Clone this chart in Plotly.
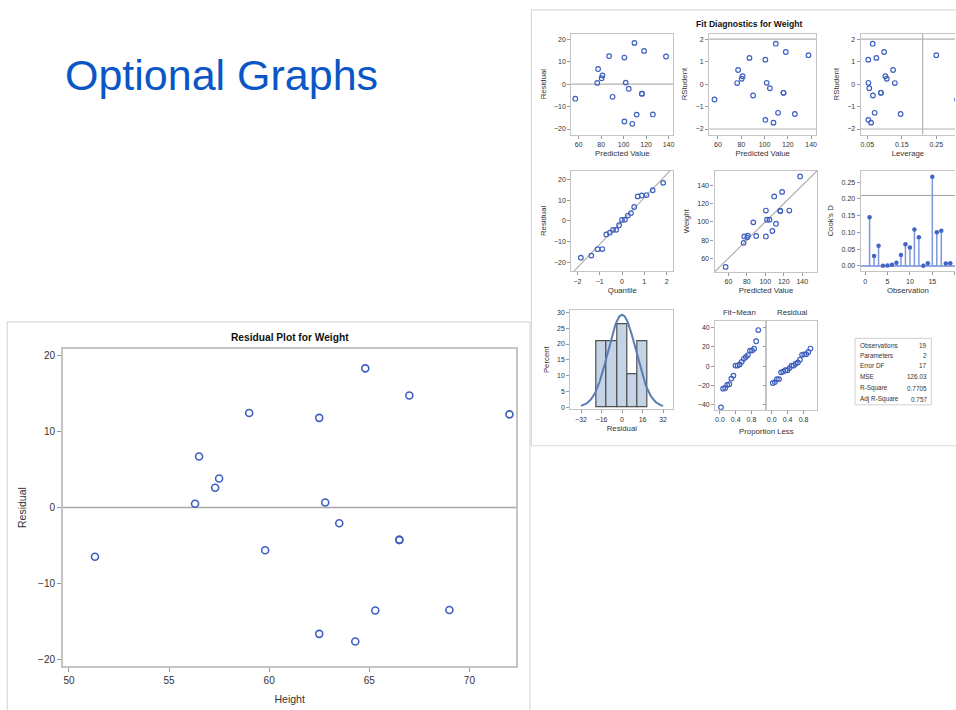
import numpy as np
import plotly.graph_objects as go

# ---------------- data (SASHELP.CLASS regression of Weight on Height) ----------------
obs = list(range(1, 20))
height = [69.0, 56.5, 65.3, 62.8, 63.5, 57.3, 59.8, 62.5, 62.5, 59.0,
          51.3, 64.3, 56.3, 66.5, 72.0, 64.8, 67.0, 57.5, 66.5]
weight = [112.5, 84.0, 98.0, 102.5, 102.5, 83.0, 84.5, 112.5, 84.0, 99.5,
          50.5, 90.0, 77.0, 112.0, 150.0, 128.0, 133.0, 85.0, 112.0]
predicted = [126.01, 77.27, 111.58, 101.83, 104.56, 80.39, 90.14, 100.66, 100.66, 87.02,
             56.99, 107.68, 76.49, 116.26, 137.70, 109.63, 118.21, 81.17, 116.26]
residual = [-13.51, 6.73, -13.58, 0.67, -2.06, 2.61, -5.64, 11.84, -16.66, 12.48,
            -6.49, -17.68, 0.51, -4.26, 12.30, 18.37, 14.79, 3.83, -4.26]
rstudent = [-1.332, 0.630, -1.278, 0.059, -0.184, 0.239, -0.508, 1.089, -1.592, 1.169,
            -0.685, -1.716, 0.048, -0.387, 1.289, 1.801, 1.430, 0.351, -0.387]
leverage = [0.1465, 0.1246, 0.0712, 0.0531, 0.0555, 0.1063, 0.0662, 0.0527, 0.0527, 0.0762,
            0.3101, 0.0608, 0.1297, 0.0893, 0.2500, 0.0655, 0.0986, 0.1021, 0.0893]
cooks_d = [0.1455, 0.0292, 0.0604, 0.0001, 0.0011, 0.0036, 0.0096, 0.0327, 0.0647, 0.0552,
           0.1090, 0.0855, 0.0002, 0.0077, 0.2666, 0.1003, 0.1053, 0.0074, 0.0077]
qq_quantile = [-1.846, -1.376, -1.097, -0.884, -0.705, -0.547, -0.401, -0.264, -0.131, 0.0,
               0.131, 0.264, 0.401, 0.547, 0.705, 0.884, 1.097, 1.376, 1.846]
qq_residual = [-17.68, -16.66, -13.58, -13.51, -6.49, -5.64, -4.26, -4.26, -2.06, 0.51,
               0.67, 2.61, 3.83, 6.73, 11.84, 12.30, 12.48, 14.79, 18.37]
prop_less = [0.026, 0.079, 0.132, 0.184, 0.237, 0.289, 0.342, 0.395, 0.447, 0.500,
             0.553, 0.605, 0.658, 0.711, 0.763, 0.816, 0.868, 0.921, 0.974]
fit_minus_mean = [-43.03, -23.54, -22.76, -19.64, -18.86, -13.01, -9.89, 0.64, 0.64, 1.81,
                  4.54, 7.66, 9.60, 11.55, 16.23, 16.23, 18.18, 25.98, 37.68]
stat_labels = ["Observations", "Parameters", "Error DF", "MSE", "R-Square", "Adj R-Square"]
stat_values = ["19", "2", "17", "126.03", "0.7705", "0.757"]
root_mse = 11.226
resid_sd = 10.91
cook_cutoff = 0.2105      # 4/n
lev_cutoff = 0.2105       # 2p/n
rstud_limits = [-2, 2]

# ---------------- styling ----------------
W, H = 956, 710
FONT = "Arial, Liberation Sans, sans-serif"
BLUE = "#3d5fbf"
FRAME = "#c4c4c4"
REF = "#b2b2b2"
TXT = "#333333"


def dx(a, b):
    return [a / W, b / W]


def dy(top, bottom):
    return [1 - bottom / H, 1 - top / H]


fig = go.Figure()
layout = {}


def add_axes(n, xdom, ydom, xr, yr, xtitle, ytitle, xticks, yticks, small=True,
             xfmt=None, yfmt=None, ymirror=True, yshow=True, ystand=6, xstand=3):
    fs = 7 if small else 10
    tfs = 7.8 if small else 10.5
    xs = "xaxis" if n == 1 else f"xaxis{n}"
    ys = "yaxis" if n == 1 else f"yaxis{n}"
    lw = 1.3 if small else 1.8
    xa = dict(domain=xdom, range=xr, anchor="y" if n == 1 else f"y{n}",
              showgrid=False, zeroline=False, showline=True, mirror=True,
              linecolor=FRAME, linewidth=lw, ticks="outside", ticklen=3 if small else 4,
              tickcolor="#999999", tickvals=xticks,
              tickfont=dict(family=FONT, size=fs, color=TXT),
              title=dict(text=xtitle, font=dict(family=FONT, size=tfs, color=TXT),
                         standoff=xstand))
    if xfmt:
        xa["tickformat"] = xfmt
    ya = dict(domain=ydom, range=yr, anchor="x" if n == 1 else f"x{n}",
              showgrid=False, zeroline=False, showline=True, mirror=ymirror,
              linecolor=FRAME, linewidth=lw, ticks="outside", ticklen=3 if small else 4,
              tickcolor="#999999", tickvals=yticks, showticklabels=yshow,
              tickfont=dict(family=FONT, size=fs, color=TXT),
              title=dict(text=ytitle, font=dict(family=FONT, size=tfs, color=TXT),
                         standoff=ystand))
    if yfmt:
        ya["tickformat"] = yfmt
    layout[xs] = xa
    layout[ys] = ya


def ref(n):
    return ("x" if n == 1 else f"x{n}", "y" if n == 1 else f"y{n}")


def pts(n, x, y, size=4.6, width=1.2):
    xr_, yr_ = ref(n)
    fig.add_trace(go.Scatter(x=x, y=y, mode="markers", xaxis=xr_, yaxis=yr_,
                             marker=dict(symbol="circle-open", size=size, color=BLUE,
                                         line=dict(width=width)),
                             showlegend=False, hoverinfo="skip"))


shapes = []
annotations = []


def hline(n, y, color=REF, width=1.2):
    xr_, yr_ = ref(n)
    shapes.append(dict(type="line", xref=f"{xr_} domain", yref=yr_, x0=0, x1=1, y0=y, y1=y,
                       line=dict(color=color, width=width), layer="below"))


def vline(n, x, color=REF, width=1.2):
    xr_, yr_ = ref(n)
    shapes.append(dict(type="line", xref=xr_, yref=f"{yr_} domain", x0=x, x1=x, y0=0, y1=1,
                       line=dict(color=color, width=width), layer="below"))


# ---------------- big residual plot ----------------
add_axes(1, dx(63, 517), dy(349, 667), [49.7, 72.35], [-20.92, 20.92], "Height", "Residual",
         [50, 55, 60, 65, 70], [-20, -10, 0, 10, 20], small=False, ystand=9, xstand=11)
hline(1, 0, color="#a9a9a9", width=1.6)
pts(1, height, residual, size=7, width=1.6)

# ---------------- diagnostics row 1 ----------------
add_axes(2, dx(572, 674), dy(32.7, 134), [53.5, 144.2], [-22.5, 22.5], "Predicted Value",
         "Residual", [60, 80, 100, 120, 140], [-20, -10, 0, 10, 20])
hline(2, 0)
pts(2, predicted, residual)

add_axes(3, dx(710, 817), dy(32.7, 134), [52.5, 144.3], [-2.25, 2.25], "Predicted Value",
         "RStudent", [60, 80, 100, 120, 140], [-2, -1, 0, 1, 2])
for v in rstud_limits:
    hline(3, v)
pts(3, predicted, rstudent)

add_axes(4, dx(861.7, 956), dy(32.7, 134), [0.031, 0.3042], [-2.25, 2.25], "Leverage",
         "RStudent", [0.05, 0.15, 0.25], [-2, -1, 0, 1, 2], xfmt=".2f", ymirror=False)
for v in rstud_limits:
    hline(4, v)
vline(4, lev_cutoff)
pts(4, leverage, rstudent)

# ---------------- diagnostics row 2 ----------------
add_axes(5, dx(572, 674), dy(170, 271), [-2.27, 2.3], [-24.2, 24.3], "Quantile", "Residual",
         [-2, -1, 0, 1, 2], [-20, -10, 0, 10, 20])
qx = [-2.4, 2.4]
fig.add_trace(go.Scatter(x=qx, y=[root_mse * v for v in qx], mode="lines", xaxis="x5",
                         yaxis="y5", line=dict(color=REF, width=1.2), showlegend=False,
                         hoverinfo="skip"))
pts(5, qq_quantile, qq_residual)

add_axes(6, dx(715.3, 818.3), dy(170, 271.7), [45, 156.5], [45, 156.5], "Predicted Value",
         "Weight", [60, 80, 100, 120, 140], [60, 80, 100, 120, 140])
fig.add_trace(go.Scatter(x=[45, 156.5], y=[45, 156.5], mode="lines", xaxis="x6", yaxis="y6",
                         line=dict(color=REF, width=1.2), showlegend=False, hoverinfo="skip"))
pts(6, predicted, weight)

add_axes(7, dx(861.7, 956), dy(170, 271), [-0.96, 20.06], [-0.016, 0.285], "Observation",
         "Cook's D", [0, 5, 10, 15, 20], [0, 0.05, 0.10, 0.15, 0.20, 0.25], yfmt=".2f",
         ymirror=False)
hline(7, cook_cutoff, color="#a0a0a0", width=1)
hline(7, 0, color="#6f8fd6", width=1.5)
fig.add_trace(go.Scatter(x=obs, y=cooks_d, mode="markers", xaxis="x7", yaxis="y7",
                         marker=dict(symbol="circle", size=4.5, color="#4565c4"),
                         error_y=dict(type="data", symmetric=False, array=[0] * len(obs),
                                      arrayminus=cooks_d, width=0, color="#7d98da",
                                      thickness=1.5),
                         showlegend=False, hoverinfo="skip"))

# ---------------- diagnostics row 3 ----------------
add_axes(8, dx(571, 674), dy(310, 409.3), [-40.3, 40], [-0.63, 30.73], "Residual", "Percent",
         [-32, -16, 0, 16, 32], [0, 5, 10, 15, 20, 25, 30])
fig.add_trace(go.Histogram(x=residual, xbins=dict(start=-20, end=20, size=8),
                           histnorm="percent", xaxis="x8", yaxis="y8",
                           marker=dict(color="#c5d3e7", line=dict(color="#4f4f4f", width=1.2)),
                           showlegend=False, hoverinfo="skip"))
cx = np.linspace(-32, 32, 161)
cy = 100 * 8 * np.exp(-0.5 * (cx / resid_sd) ** 2) / (resid_sd * np.sqrt(2 * np.pi))
fig.add_trace(go.Scatter(x=cx, y=cy, mode="lines", xaxis="x8", yaxis="y8",
                         line=dict(color="#5a7db4", width=2), showlegend=False,
                         hoverinfo="skip"))

add_axes(9, dx(716, 766), dy(321, 410), [-0.12, 1.15], [-45.6, 47], "", "",
         [0.0, 0.4, 0.8], [-40, -20, 0, 20, 40], xfmt=".1f")
add_axes(10, dx(767.7, 818.3), dy(321, 410), [-0.12, 1.15], [-45.6, 47], "", "",
         [0.0, 0.4, 0.8], [-40, -20, 0, 20, 40], xfmt=".1f", yshow=False)
layout["yaxis10"]["matches"] = "y9"
pts(9, prop_less, fit_minus_mean)
pts(10, prop_less, qq_residual)

# ---------------- text annotations ----------------
def ann(x, y, text, size=7.8, bold=False, color=TXT, xanchor="center", family=FONT):
    annotations.append(dict(x=x / W, y=1 - y / H, xref="paper", yref="paper", text=text,
                            showarrow=False, xanchor=xanchor, yanchor="middle",
                            font=dict(family=family, size=size, color=color)))


ann(290, 337.5, "<b>Residual Plot for Weight</b>", size=10.2, color="#111111")
ann(750, 23, "<b>Fit Diagnostics for Weight</b>", size=8.6, color="#111111")
ann(740, 312.5, "Fit−Mean", size=7.8)
ann(793, 312.5, "Residual", size=7.8)
ann(767, 432, "Proportion Less", size=7.8)

# statistics table
shapes.append(dict(type="rect", xref="paper", yref="paper", x0=856 / W, x1=932.3 / W,
                   y0=1 - 405 / H, y1=1 - 338.3 / H, line=dict(color="#d0d0d0", width=1)))
row_y = [345, 355.3, 365.8, 376.7, 388.3, 399.5]
for lab, val, ry in zip(stat_labels, stat_values, row_y):
    ann(858.5, ry, lab, size=6.4, xanchor="left")
    ann(929.5, ry, val, size=6.4, xanchor="right")

# slide title
annotations.append(dict(x=63 / W, y=1 - 74 / H, xref="paper", yref="paper",
                        text="Optional Graphs", showarrow=False, xanchor="left",
                        yanchor="middle",
                        font=dict(family="Liberation Sans, Arial, sans-serif", size=43,
                                  color="#0b56c6")))

# panel frames (slide images)
shapes.append(dict(type="rect", xref="paper", yref="paper", x0=532 / W, x1=1.01,
                   y0=1 - 446 / H, y1=1 - 9 / H, line=dict(color="#d9d9d9", width=1.2),
                   layer="below"))
shapes.append(dict(type="rect", xref="paper", yref="paper", x0=7.3 / W, x1=530.5 / W,
                   y0=-0.01, y1=1 - 321.7 / H, line=dict(color="#d9d9d9", width=1.2),
                   layer="below"))

fig.update_layout(**layout)
fig.update_layout(width=W, height=H, margin=dict(l=0, r=0, t=0, b=0), autosize=False,
                  paper_bgcolor="white", plot_bgcolor="white", shapes=shapes,
                  annotations=annotations, bargap=0, showlegend=False)
fig.write_html("out.html")
